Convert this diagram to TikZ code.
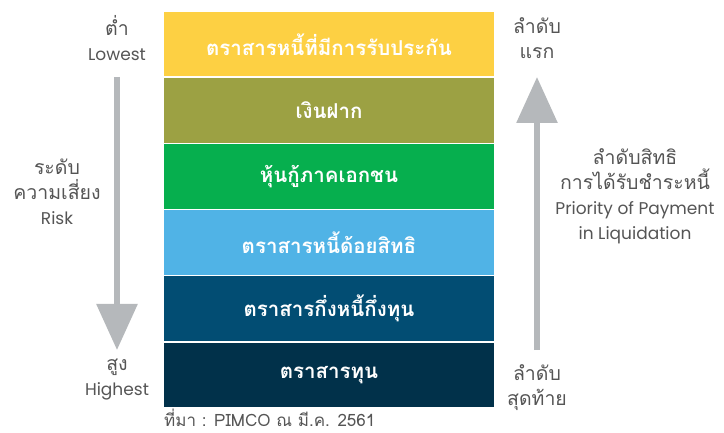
\documentclass[tikz,border=0pt]{standalone}
\usepackage{fontspec}
\usepackage{xcolor}
\setmainfont{Poppins}
\newfontfamily\thaifont[Script=Thai]{Loma}
\usetikzlibrary{positioning,arrows.meta}

\definecolor{tieryellow}{HTML}{FDD043}
\definecolor{tierolive}{HTML}{9CA143}
\definecolor{tiergreen}{HTML}{06AF4E}
\definecolor{tiersky}{HTML}{50B3E6}
\definecolor{tierblue}{HTML}{024D73}
\definecolor{tiernavy}{HTML}{01314A}
\definecolor{arrowgray}{HTML}{B5B8BB}
\definecolor{labelgray}{HTML}{555555}

\newcommand{\thline}[1]{{\thaifont\fontsize{19.5}{25}\selectfont #1}}

\begin{document}
\begin{tikzpicture}[
  x=1pt, y=-1pt,
  tier/.style={minimum width=330pt, minimum height=64.5pt, inner sep=0pt, text=white, font=\thaifont\bfseries\fontsize{20.5}{22}\selectfont},
  side/.style={align=center, text=labelgray, font=\fontsize{17}{25}\selectfont},
  bigarrow/.style={draw=arrowgray, line width=6pt, -{Triangle[width=40pt,length=46pt]}}
]
\useasboundingbox (0,0) rectangle (724,433);

% priority tiers
\node[tier, fill=tieryellow] (secured) at (329,44.25) {ตราสารหนี้ที่มีการรับประกัน};
\node[tier, fill=tierolive, below=1.2pt of secured] (deposit) {เงินฝาก};
\node[tier, fill=tiergreen, below=1.2pt of deposit] (corporate) {หุ้นกู้ภาคเอกชน};
\node[tier, fill=tiersky, below=1.2pt of corporate] (subordinated) {ตราสารหนี้ด้อยสิทธิ};
\node[tier, fill=tierblue, below=1.2pt of subordinated] (hybrid) {ตราสารกึ่งหนี้กึ่งทุน};
\node[tier, fill=tiernavy, below=1.2pt of hybrid] (equity) {ตราสารทุน};

% risk side
\node[side] (lowest) at (117,38) {\thline{ต่ำ}\\Lowest};
\node[side] (risk) at (57,192) {\thline{ระดับ}\\\thline{ความเสี่ยง}\\Risk};
\node[side] (highest) at (117,380) {\thline{สูง}\\Highest};
\coordinate (risktop) at (117,77);
\coordinate (riskend) at (117,350);
\draw[bigarrow] (risktop) -- (riskend);

% payment side
\node[side] (first) at (537,38) {\thline{ลำดับ}\\\thline{แรก}};
\node[side] (priority) at (635,196) {\thline{ลำดับสิทธิ}\\\thline{การได้รับชำระหนี้}\\Priority of Payment\\in Liquidation};
\node[side] (last) at (537,388) {\thline{ลำดับ}\\\thline{สุดท้าย}};
\coordinate (paybottom) at (537,350);
\coordinate (paytop) at (537,77);
\draw[bigarrow] (paybottom) -- (paytop);

\node[anchor=west, inner sep=0pt, text=labelgray, font=\thaifont\fontsize{17}{18}\selectfont] (source) at (164,418) {ที่มา : PIMCO ณ มี.ค. 2561};

\end{tikzpicture}
\end{document}
